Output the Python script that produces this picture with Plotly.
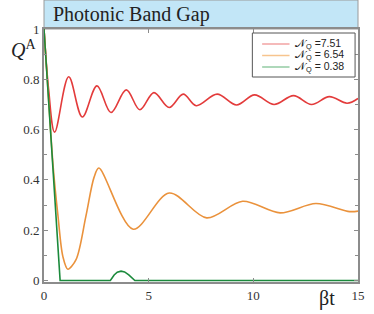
import plotly.graph_objects as go

# ---- data ----
t_red = [0, 0.22, 0.51, 1.18, 1.83, 2.53, 3.2, 3.93, 4.58, 5.25, 5.98, 6.65, 7.27,
         8.27, 9.2, 10.06, 10.99, 11.92, 12.78, 13.63, 14.48, 15.0]
q_red = [1.0, 0.76, 0.59, 0.81, 0.65, 0.774, 0.668, 0.758, 0.679, 0.747, 0.688, 0.741, 0.695,
         0.741, 0.698, 0.738, 0.70, 0.735, 0.70, 0.731, 0.705, 0.724]

t_orange = [0, 0.22, 0.44, 0.67, 0.9, 1.14, 1.53, 2.0, 2.39, 2.62, 4.26, 5.98, 7.77,
            9.49, 11.28, 12.99, 14.6, 15.0]
q_orange = [1.0, 0.72, 0.45, 0.255, 0.096, 0.045, 0.083, 0.255, 0.41, 0.447, 0.204, 0.348, 0.249,
            0.315, 0.269, 0.306, 0.274, 0.276]

t_green = [0, 0.77, 3.17, 3.35, 3.5, 3.68, 3.85, 4.05, 4.34, 15.0]
q_green = [1.0, 0.0, 0.0, 0.022, 0.033, 0.037, 0.034, 0.022, 0.0, 0.0]

names = ["𝒩<sub>Q</sub> =7.51", "𝒩<sub>Q</sub> = 6.54", "𝒩<sub>Q</sub> = 0.38"]
colors = ["#e33b3b", "#ea923c", "#1b8a3c"]
legend_colors = ["#f2a3a3", "#f7c48e", "#93cba3"]

x_ticks = [0, 5, 10, 15]
y_ticks = [0, 0.2, 0.4, 0.6, 0.8, 1]
y_ticklabels = ["0", "0.2", "0.4", "0.6", "0.8", "1"]

fig = go.Figure()
fig.add_trace(go.Scatter(x=t_red, y=q_red, mode="lines", name=names[0],
                         line=dict(color=colors[0], width=1.6, shape="spline", smoothing=1.0)))
fig.add_trace(go.Scatter(x=t_orange, y=q_orange, mode="lines", name=names[1],
                         line=dict(color=colors[1], width=1.6, shape="spline", smoothing=0.9)))
fig.add_trace(go.Scatter(x=t_green, y=q_green, mode="lines", name=names[2],
                         line=dict(color=colors[2], width=1.6)))

axis_common = dict(showline=True, linecolor="#8c8c8c", linewidth=2, mirror="ticks",
                   ticks="inside", ticklen=4, tickcolor="#8c8c8c", tickwidth=1,
                   showgrid=False, zeroline=False, ticklabeloverflow="allow",
                   tickfont=dict(family="Liberation Serif", size=13, color="#333333"))

fig.update_xaxes(range=[0, 15], tickvals=x_ticks, ticktext=[str(v) for v in x_ticks], **axis_common)
fig.update_yaxes(range=[-0.006, 1.0], tickvals=y_ticks, ticktext=y_ticklabels,
                 minor=dict(dtick=0.1, ticks="inside", ticklen=3, tickcolor="#8c8c8c"),
                 **axis_common)

# plot area in pixels: x 44..365, y 29..282
def px(x):
    return (x - 44) / 321.0


def py(y):
    return (282 - y) / 253.0


shapes = [
    dict(type="rect", xref="paper", yref="paper", x0=0, x1=1, y0=1, y1=1 + 29 / 253,
         fillcolor="#c2e6f7", line=dict(color="#9a9a9a", width=1), layer="below"),
    dict(type="rect", xref="paper", yref="paper", x0=px(257), x1=px(362), y0=py(77), y1=py(33),
         fillcolor="white", line=dict(color="#555555", width=1), layer="above"),
]
annotations = [
    dict(text="Photonic Band Gap", xref="paper", yref="paper", x=0.022, y=1 + 14.5 / 253,
         xanchor="left", yanchor="middle", showarrow=False,
         font=dict(family="Liberation Serif", size=20, color="#222222")),
    dict(text="<i>Q</i><sup>A</sup>", xref="paper", yref="paper", x=px(23), y=py(49),
         xanchor="center", yanchor="middle", showarrow=False,
         font=dict(family="Liberation Serif", size=20, color="#222222")),
    dict(text="βt", xref="paper", yref="paper", x=px(333), y=py(298),
         xanchor="center", yanchor="middle", showarrow=False,
         font=dict(family="Liberation Serif", size=20, color="#222222")),
]
row_y = [44.0, 55.5, 67.0]
for name, lc, ry in zip(names, legend_colors, row_y):
    shapes.append(dict(type="line", xref="paper", yref="paper", x0=px(267), x1=px(295),
                       y0=py(ry), y1=py(ry), line=dict(color=lc, width=1.5), layer="above"))
    annotations.append(dict(text=name, xref="paper", yref="paper", x=px(299), y=py(ry),
                            xanchor="left", yanchor="middle", showarrow=False,
                            font=dict(family="Liberation Sans", size=10.5, color="#222222")))

fig.update_layout(
    width=374, height=314,
    margin=dict(l=44, r=9, t=29, b=32),
    plot_bgcolor="white", paper_bgcolor="white",
    showlegend=False,
    shapes=shapes,
    annotations=annotations,
)

fig.write_html("out.html", config={"displayModeBar": False},
               post_script="document.body.style.margin='0px';")
